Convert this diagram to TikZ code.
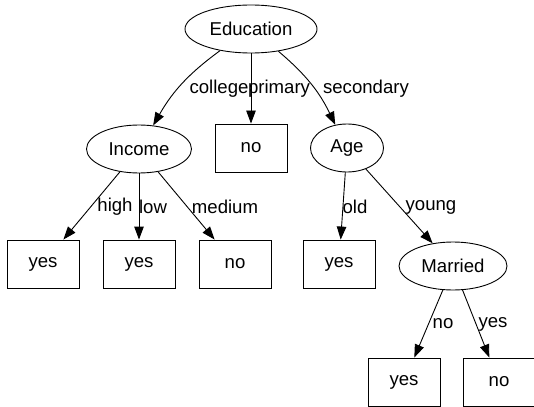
\documentclass[tikz,border=0pt]{standalone}
\usepackage{fontspec}
\setmainfont{Liberation Sans}
\usetikzlibrary{shapes.geometric,arrows.meta}
\begin{document}
\begin{tikzpicture}[x=1pt,y=-1pt,every node/.style={font=\fontsize{18.6}{21}\selectfont}]
	\tikzstyle{Split} = [ellipse, draw=black, line width=0.9pt, inner sep=0pt, minimum height=48pt]
	\tikzstyle{Leaf} = [rectangle, draw=black, line width=0.9pt, minimum width=72pt, minimum height=48pt]
	\tikzstyle{arrow} = [line width=0.9pt, -{Triangle[length=13pt,width=9.5pt]}]
	\tikzstyle{lbl} = [inner sep=0pt]
	\useasboundingbox (0,0) rectangle (534,406);
	
	\node (edu) [Split, minimum width=132pt] at (251,29) {Education};
	\node (inc) [Split, minimum width=105pt] at (139,149) {Income};
	\node (n0) [Leaf] at (251,148) {no};
	\node (age) [Split, minimum width=73pt] at (347,148) {Age};
	\node (y1) [Leaf] at (43,264) {yes};
	\node (y2) [Leaf] at (139,264) {yes};
	\node (n1) [Leaf] at (235,264) {no};
	\node (y3) [Leaf] at (339,264) {yes};
	\node (mar) [Split, minimum width=108pt] at (453,266) {Married};
	\node (y4) [Leaf] at (404,382) {yes};
	\node (n2) [Leaf] at (499,382) {no};
	
	\draw [arrow] (edu) to[bend right=12] (inc);
	\draw [arrow] (edu) -- (n0);
	\draw [arrow] (edu) to[bend left=12] (age);
	\draw [arrow] (inc) -- (y1);
	\draw [arrow] (inc) -- (y2);
	\draw [arrow] (inc) -- (n1);
	\draw [arrow] (age) -- (y3);
	\draw [arrow] (age) -- (mar);
	\draw [arrow] (mar) -- (y4);
	\draw [arrow] (mar) -- (n2);
	
	\node (l-college) [lbl] at (219,89) {college};
	\node (l-primary) [lbl] at (279,89) {primary};
	\node (l-secondary) [lbl] at (366,89) {secondary};
	\node (l-high) [lbl] at (115,207) {high};
	\node (l-low) [lbl] at (153,207) {low};
	\node (l-medium) [lbl] at (225,207) {medium};
	\node (l-old) [lbl] at (355,207) {old};
	\node (l-young) [lbl] at (431,207) {young};
	\node (l-no) [lbl] at (443,324) {no};
	\node (l-yes) [lbl] at (493,324) {yes};
\end{tikzpicture}
\end{document}
